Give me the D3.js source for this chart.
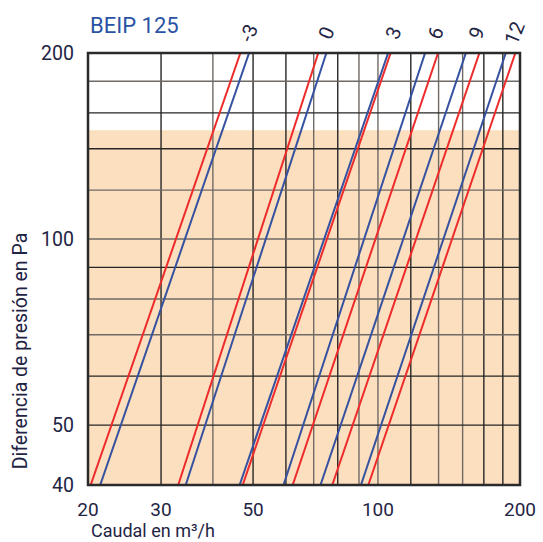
<!DOCTYPE html>
<html>
<head>
<meta charset="utf-8">
<script src="https://cdn.jsdelivr.net/npm/d3@7"></script>
<style>
  body { margin: 0; background: #fff; }
  text { font-family: Roboto, "Open Sans", sans-serif; fill: #1f2444; }
</style>
</head>
<body>
<svg id="chart" width="543" height="542"></svg>
<script>
// settings of the valve, one red and one blue line each
var settings = ["-3", "0", "3", "6", "9", "12"];
// flow (m3/h) where each line crosses 40 Pa and 200 Pa
var redQ40   = [20.3, 33.0, 47.2, 62.3, 77.6, 94.8];
var redQ200  = [46.6, 71.8, 107.3, 139.6, 175.6, 214.4];
var blueQ40  = [21.4, 34.4, 46.4, 59.2, 72.7, 91.0];
var blueQ200 = [48.9, 75.1, 105.8, 129.9, 162.9, 203.3];

var xGrid = [30, 40, 50, 60, 70, 80, 90, 100, 120, 140, 160, 180, 200];
var xGridDark = [30, 50, 60, 80, 120, 180, 200];
var yGrid = [50, 60, 70, 80, 90, 100, 120, 140, 160, 180];
var yGridDark = [50, 60, 90, 140, 160];
var xTickVals = [20, 30, 50, 100, 220];
var xTickText = ["20", "30", "50", "100", "200"];
var yTickVals = [40, 50, 100, 200];
var shadeMax = 150;

var svg = d3.select("#chart");
var margin = {top: 53, right: 23, bottom: 57, left: 88}
    , width = 543 - margin.left - margin.right
    , height = 542 - margin.top - margin.bottom
    , g = svg.append("g").attr("transform", "translate(" + margin.left + "," + margin.top + ")");

var x = d3.scaleLog().domain([20, 220]).range([0, width]);
var y = d3.scaleLog().domain([40, 200]).range([height, 0]);

svg.append("defs").append("clipPath").attr("id", "clip")
    .append("rect").attr("width", width).attr("height", height);

// shaded working range
g.append("rect")
    .attr("x", 0)
    .attr("y", y(shadeMax))
    .attr("width", width)
    .attr("height", height - y(shadeMax))
    .attr("fill", "#fcdfbf");

g.selectAll("line.vgrid")
    .data(xGrid)
    .enter().append("line")
    .attr("class", "vgrid")
    .attr("x1", function(d) { return x(d) })
    .attr("x2", function(d) { return x(d) })
    .attr("y1", 0).attr("y2", height)
    .attr("stroke", function(d) { return xGridDark.indexOf(d) >= 0 ? "#262626" : "#6f6a66" })
    .attr("stroke-width", 1.4);

g.selectAll("line.hgrid")
    .data(yGrid)
    .enter().append("line")
    .attr("class", "hgrid")
    .attr("y1", function(d) { return y(d) })
    .attr("y2", function(d) { return y(d) })
    .attr("x1", 0).attr("x2", width)
    .attr("stroke", function(d) { return yGridDark.indexOf(d) >= 0 ? "#262626" : "#6f6a66" })
    .attr("stroke-width", 1.4);

var line = d3.line()
    .x(function(d) { return x(d[0]) })
    .y(function(d) { return y(d[1]) });

var lines_g = g.append("g").attr("clip-path", "url(#clip)");

settings.forEach(function(s, i) {
    lines_g.append("path")
        .datum([[blueQ40[i], 40], [blueQ200[i], 200]])
        .attr("d", line)
        .attr("fill", "none")
        .attr("stroke", "#3551a0")
        .attr("stroke-width", 2);
    lines_g.append("path")
        .datum([[redQ40[i], 40], [redQ200[i], 200]])
        .attr("d", line)
        .attr("fill", "none")
        .attr("stroke", "#ee2b2b")
        .attr("stroke-width", 2);
});

// frame
g.append("rect")
    .attr("width", width)
    .attr("height", height)
    .attr("fill", "none")
    .attr("stroke", "#2a2a2a")
    .attr("stroke-width", 2.5);

// setting labels above the frame
g.selectAll("text.setting")
    .data(settings)
    .enter().append("text")
    .attr("class", "setting")
    .attr("transform", function(d, i) {
        var cx = (x(redQ200[i]) + x(blueQ200[i])) / 2 + 4;
        return "translate(" + cx + "," + (-20) + ") rotate(-68)";
    })
    .attr("text-anchor", "middle")
    .attr("dominant-baseline", "central")
    .style("font-size", "20px")
    .text(function(d) { return d });

// x tick labels
g.selectAll("text.xtick")
    .data(xTickVals)
    .enter().append("text")
    .attr("class", "xtick")
    .attr("x", function(d) { return x(d) })
    .attr("y", height + 31)
    .attr("text-anchor", "middle")
    .style("font-size", "19px")
    .text(function(d, i) { return xTickText[i] });

// y tick labels
g.selectAll("text.ytick")
    .data(yTickVals)
    .enter().append("text")
    .attr("class", "ytick")
    .attr("x", -14)
    .attr("y", function(d) { return y(d) })
    .attr("dy", "0.36em")
    .attr("text-anchor", "end")
    .style("font-size", "19.5px")
    .text(function(d) { return d });

svg.append("text")
    .attr("x", 90)
    .attr("y", 33)
    .style("font-size", "22px")
    .style("fill", "#2b53a5")
    .text("BEIP 125");

svg.append("text")
    .attr("x", 91)
    .attr("y", 537)
    .style("font-size", "18px")
    .text("Caudal en m³/h");

svg.append("text")
    .attr("transform", "translate(27,351) rotate(-90)")
    .attr("text-anchor", "middle")
    .style("font-size", "19.5px")
    .text("Diferencia de presión en Pa");
</script>
</body>
</html>
